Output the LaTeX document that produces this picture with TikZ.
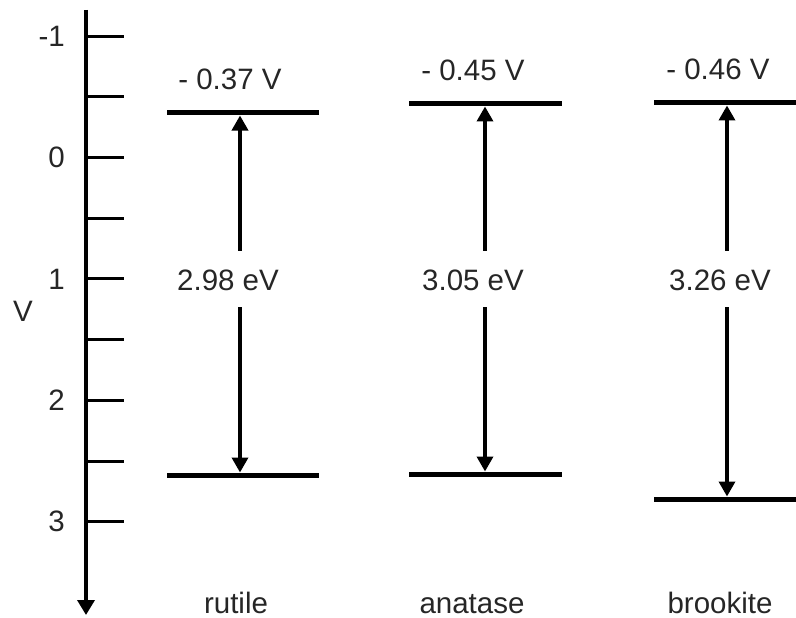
\documentclass[tikz,border=0pt]{standalone}
\usepackage{fontspec}
\setmainfont{Liberation Sans}
\usetikzlibrary{arrows.meta}
\begin{document}
\begin{tikzpicture}[x=1pt,y=-1pt,
  lbl/.style={font=\fontsize{29.5}{35}\selectfont, inner sep=0pt, text=black!85},
  gaplbl/.style={lbl, fill=white, text height=22pt, text depth=0pt, inner ysep=17pt, inner xsep=2pt},
  axisline/.style={line width=3.5pt, -{Triangle[width=17pt,length=15pt]}},
  tickline/.style={line width=3pt},
  level/.style={line width=5pt},
  gaparrow/.style={line width=3.5pt, {Triangle[width=16pt,length=15pt]}-{Triangle[width=16pt,length=15pt]}, shorten <=2.5pt, shorten >=2.5pt}
]
\useasboundingbox (0,0) rectangle (796,618);

% axis
\coordinate (axtop) at (86,10);
\coordinate (axbot) at (86,615);
\draw[axisline] (axtop) -- (axbot);
\foreach \v in {-1,-0.5,...,3.01} {
  \draw[tickline] (86,{157.5+121.4*\v}) -- (124,{157.5+121.4*\v});
}
\foreach \v/\t in {-1/-1,0/0,1/1,2/2,3/3} {
  \node[lbl, anchor=east] (tk\t) at (65,{157.5+121.4*\v}) {\t};
}
\node[lbl] (vlab) at (23,311) {V};

% levels
\coordinate (rTl) at (167,113); \coordinate (rTr) at (319,113);
\coordinate (rBl) at (167,475); \coordinate (rBr) at (319,475);
\coordinate (aTl) at (409,104); \coordinate (aTr) at (562,104);
\coordinate (aBl) at (409,474); \coordinate (aBr) at (562,474);
\coordinate (bTl) at (654,103); \coordinate (bTr) at (796,103);
\coordinate (bBl) at (654,499); \coordinate (bBr) at (796,499);
\draw[level] (rTl) -- (rTr);
\draw[level] (rBl) -- (rBr);
\draw[level] (aTl) -- (aTr);
\draw[level] (aBl) -- (aBr);
\draw[level] (bTl) -- (bTr);
\draw[level] (bBl) -- (bBr);

% gap arrows
\coordinate (rT) at (240,113); \coordinate (rB) at (240,475);
\coordinate (aT) at (485,104); \coordinate (aB) at (485,474);
\coordinate (bT) at (727,103); \coordinate (bB) at (727,499);
\draw[gaparrow] (rB) -- (rT);
\draw[gaparrow] (aB) -- (aT);
\draw[gaparrow] (bB) -- (bT);

\node[gaplbl, anchor=base] (rgap) at (228,290) {2.98 eV};
\node[gaplbl, anchor=base] (agap) at (473,290) {3.05 eV};
\node[gaplbl, anchor=base] (bgap) at (720,290) {3.26 eV};

% potentials
\node[lbl, anchor=base] (rpot) at (230,90) {- 0.37 V};
\node[lbl, anchor=base] (apot) at (473,81) {- 0.45 V};
\node[lbl, anchor=base] (bpot) at (718,80) {- 0.46 V};

% names
\node[lbl, anchor=base] (rname) at (236,613) {rutile};
\node[lbl, anchor=base] (aname) at (472,613) {anatase};
\node[lbl, anchor=base] (bname) at (720,613) {brookite};
\end{tikzpicture}
\end{document}
